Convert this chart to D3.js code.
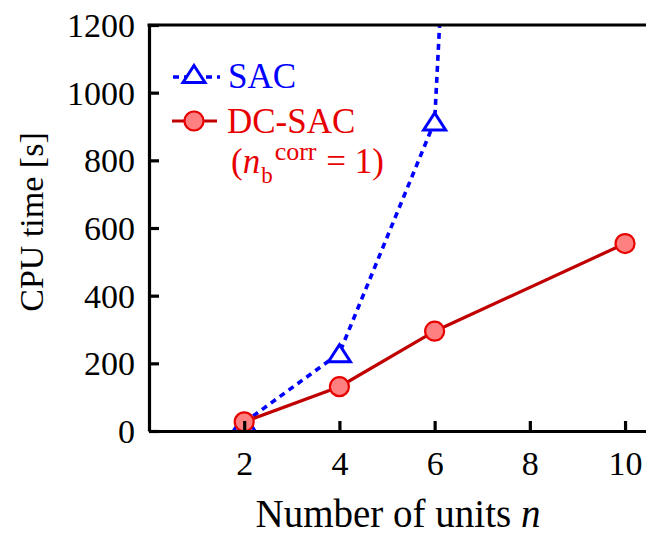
<!DOCTYPE html>
<html><head><meta charset="utf-8">
<script src="https://cdn.jsdelivr.net/npm/d3@7"></script>
<style>body{margin:0;background:#fff}svg{display:block}</style>
</head><body>
<svg id="c" width="646" height="535"></svg>
<script>
// ---- data ----
const sacN = [2, 4, 6, 8];
const sacTime = [25, 230, 915, 6400];
const dcN = [2, 4, 6, 10];
const dcTime = [27, 131, 295, 554];
const xTicks = [2, 4, 6, 8, 10];
const yTicks = [0, 200, 400, 600, 800, 1000, 1200];
const seriesNames = ["SAC", "DC-SAC"];

const svg = d3.select("#c");
const W = 646, H = 535;
const m = {left: 149, top: 25, right: 0, bottom: 104};
const x = d3.scaleLinear().domain([0, 10.44]).range([m.left, W - m.right]);
const y = d3.scaleLinear().domain([0, 1200]).range([H - m.bottom, m.top]);

const serif = "'Liberation Serif','Times New Roman',serif";
const BLUE = "#0000ff", DARKRED = "#c00000", RED = "#e80000", PINK = "#ff8080";

svg.append("defs").append("clipPath").attr("id", "clip")
  .append("rect").attr("x", m.left).attr("y", m.top - 1)
  .attr("width", W - m.left).attr("height", y(0) - m.top + 12);

const triPath = (w, h) => `M0,${-h/2}L${w/2},${h/2}L${-w/2},${h/2}Z`;

const sac = sacN.map((n, i) => ({n, t: sacTime[i]}));
const dc = dcN.map((n, i) => ({n, t: dcTime[i]}));
const line = d3.line().x(d => x(d.n)).y(d => y(d.t));

const gData = svg.append("g").attr("clip-path", "url(#clip)");
gData.append("path").datum(sac).attr("d", line)
  .attr("fill", "none").attr("stroke", BLUE).attr("stroke-width", 3.6)
  .attr("stroke-dasharray", "6,5");
gData.selectAll(".tri").data(sac).enter().append("path")
  .attr("transform", d => `translate(${x(d.n)},${y(d.t)})`)
  .attr("d", triPath(22, 17))
  .attr("fill", "#fff").attr("stroke", BLUE).attr("stroke-width", 3);

gData.append("path").datum(dc).attr("d", line)
  .attr("fill", "none").attr("stroke", DARKRED).attr("stroke-width", 3.2);
gData.selectAll(".dot").data(dc).enter().append("circle")
  .attr("cx", d => x(d.n)).attr("cy", d => y(d.t)).attr("r", 9.5)
  .attr("fill", PINK).attr("stroke", RED).attr("stroke-width", 2.2);

// axes
const ax = svg.append("g").attr("font-family", serif);
const yAxis = d3.axisLeft(y).tickValues(yTicks).tickFormat(d3.format("d"))
  .tickSizeInner(-10).tickSizeOuter(0).tickPadding(14);
const gy = ax.append("g").attr("transform", `translate(${m.left},0)`).call(yAxis);
const xAxis = d3.axisBottom(x).tickValues(xTicks).tickFormat(d3.format("d"))
  .tickSizeInner(-10).tickSizeOuter(0).tickPadding(20);
const gx = ax.append("g").attr("transform", `translate(0,${y(0)})`).call(xAxis);
[gx, gy].forEach(g => {
  g.selectAll("path.domain").attr("stroke", "#000").attr("stroke-width", 3.2);
  g.selectAll(".tick line").attr("stroke", "#000").attr("stroke-width", 3.2);
  g.selectAll(".tick text").attr("font-size", 34).attr("fill", "#000").attr("font-family", serif);
});
gy.selectAll(".tick text").attr("dy", "0.34em");
gx.selectAll(".tick text").attr("dy", "0.72em");
svg.append("line").attr("x1", m.left - 1.5).attr("x2", W).attr("y1", y(1200)).attr("y2", y(1200))
  .attr("stroke", "#000").attr("stroke-width", 3.2);

// axis titles
svg.append("text").attr("transform", `translate(43,222) rotate(-90)`)
  .attr("text-anchor", "middle").attr("font-family", serif).attr("font-size", 34)
  .text("CPU time [s]");
const xt = svg.append("text").attr("x", 398).attr("y", 527)
  .attr("text-anchor", "middle").attr("font-family", serif).attr("font-size", 39);
xt.append("tspan").text("Number of units ");
xt.append("tspan").attr("font-style", "italic").text("n");

// legend
const lg = svg.append("g").attr("font-family", serif);
lg.append("line").attr("x1", 172).attr("x2", 220).attr("y1", 77).attr("y2", 77)
  .attr("stroke", BLUE).attr("stroke-width", 3.4).attr("stroke-dasharray", "6,5").attr("stroke-dashoffset", -1);
lg.append("path").attr("transform", "translate(194,74)").attr("d", triPath(22, 17))
  .attr("fill", "#fff").attr("stroke", BLUE).attr("stroke-width", 3);
lg.append("text").attr("x", 228).attr("y", 88).attr("font-size", 35).attr("fill", BLUE).text(seriesNames[0]);

lg.append("line").attr("x1", 172).attr("x2", 217).attr("y1", 121).attr("y2", 121)
  .attr("stroke", DARKRED).attr("stroke-width", 3.2);
lg.append("circle").attr("cx", 194).attr("cy", 121).attr("r", 9.5)
  .attr("fill", PINK).attr("stroke", RED).attr("stroke-width", 2.2);
lg.append("text").attr("x", 227).attr("y", 133).attr("font-size", 35).attr("fill", RED).text(seriesNames[1]);

const note = lg.append("text").attr("x", 231).attr("y", 173).attr("font-size", 35).attr("fill", RED);
note.append("tspan").text("(");
note.append("tspan").attr("font-style", "italic").text("n");
note.append("tspan").attr("font-size", 23).attr("dx", 1).attr("dy", 10).text("b");
note.append("tspan").attr("font-size", 26).attr("dx", 2).attr("dy", -23).text("corr");
note.append("tspan").attr("dx", 1).attr("dy", 13).text(" = 1)");
</script>
</body></html>
